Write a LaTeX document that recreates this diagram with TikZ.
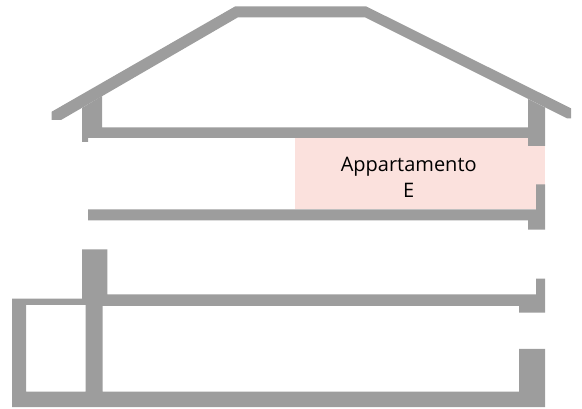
\documentclass[tikz,border=0pt]{standalone}
\usepackage{fontspec}
\setmainfont{Open Sans}
\definecolor{wallgray}{HTML}{9D9D9D}
\definecolor{flatpink}{HTML}{FBE1DD}

\begin{document}
\begin{tikzpicture}[
  x=1pt, y=-1pt,
  wall/.style={fill=wallgray, draw=none},
  flat/.style={fill=flatpink, draw=none},
  every node/.style={font=\fontsize{20}{26}\selectfont, inner sep=0pt, align=center}
]
\useasboundingbox (0,0) rectangle (582,409);
% pink apartment
\fill[flat] (295,138) rectangle (545,209.5);
% roof
\fill[wall] (51.7,111.7) -- (235.3,6.3) -- (366,6.3) -- (571,108.3) -- (571,118.3)
  -- (567,118.3) -- (365,17.3) -- (238,17.3) -- (61,120) -- (51.7,120) -- cycle;
% top floor
\fill[wall] (82,108) -- (102,96) -- (102,127.3) -- (528,127.3) -- (528,99) -- (545,107.5)
  -- (545,146) -- (528,146) -- (528,138) -- (88,138) -- (88,142) -- (82,142) -- cycle;
% middle floor
\fill[wall] (88,209.5) -- (536,209.5) -- (536,184.5) -- (545,184.5) -- (545,229.7)
  -- (528,229.7) -- (528,220.5) -- (88,220.5) -- cycle;
% ground floor
\fill[wall, even odd rule] (82,249.3) -- (107.3,249.3) -- (107.3,294.3) -- (536,294.3) -- (536,278.7)
  -- (545,278.7) -- (545,312.7) -- (519,312.7) -- (519,306) -- (102.7,306) -- (102.7,391.7)
  -- (519,391.7) -- (519,349) -- (545,349) -- (545,407) -- (12,407) -- (12,298.7) -- (82,298.7) -- cycle
  (26,305) -- (85.7,305) -- (85.7,391.7) -- (26,391.7) -- cycle;
\node (flatlabel) at (408.7,177.5) {Appartamento\\E};
\end{tikzpicture}
\end{document}
